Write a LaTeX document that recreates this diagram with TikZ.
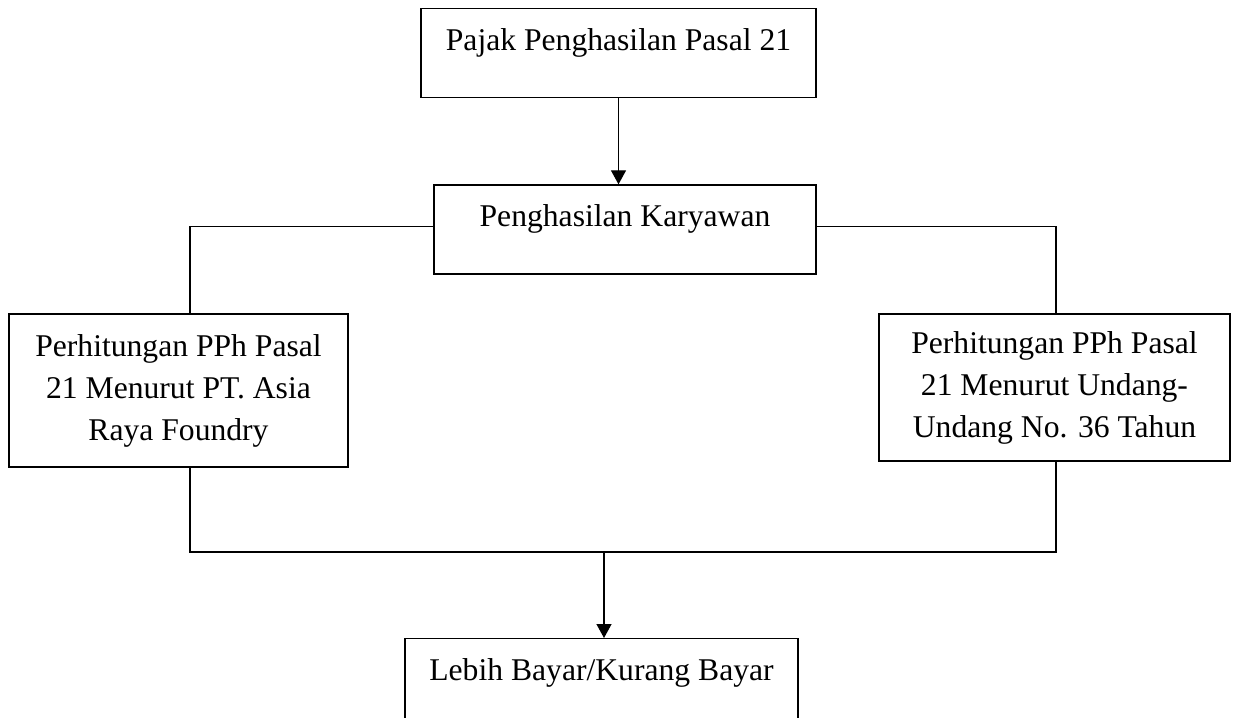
\documentclass[tikz,border=0pt]{standalone}
\usepackage{fontspec}
\setmainfont{Liberation Serif}
\usetikzlibrary{arrows.meta,positioning}

\begin{document}
\begin{tikzpicture}[
  box/.style={draw, line width=0.75pt, inner sep=0pt, align=center,
              font=\fontsize{18}{23.9}\selectfont},
  flatbox/.style={box, text height=0.84cm, text depth=0.94cm},
  arr/.style={-{Triangle[length=0.28cm, width=0.3cm]}, line width=0.75pt},
  line/.style={line width=0.75pt}
]
  \useasboundingbox (0,0) rectangle (24.74,-14.34);

  \node[flatbox, minimum width=7.9cm, anchor=north] (P) at (12.37,-0.16)
    {Pajak Penghasilan Pasal 21};
  \node[flatbox, minimum width=7.64cm, below=1.72cm of P, xshift=0.13cm] (K)
    {Penghasilan Karyawan};
  \node[box, minimum width=6.78cm, minimum height=3.06cm] (A) at (3.57,-7.81)
    {Perhitungan PPh Pasal\\21 Menurut PT. Asia\\Raya Foundry};
  \node[box, minimum width=7.02cm, minimum height=2.94cm] (U) at (21.09,-7.75)
    {Perhitungan PPh Pasal\\21 Menurut Undang-\\Undang No. 36 Tahun};
  \node[flatbox, minimum width=7.86cm, anchor=north] (L) at (12.03,-12.76)
    {Lebih Bayar/Kurang Bayar};

  \coordinate (J) at (12.08,-11.04);

  \draw[arr] (P.south) -- (P.south |- K.north);
  \draw[line] ([yshift=0.06cm]K.west) -| ([xshift=0.23cm]A.north);
  \draw[line] ([yshift=0.06cm]K.east) -| ([xshift=0.03cm]U.north);
  \draw[line] ([xshift=0.23cm]A.south) |- (J) -| ([xshift=0.03cm]U.south);
  \draw[arr] (J) -- (J |- L.north);
\end{tikzpicture}
\end{document}
